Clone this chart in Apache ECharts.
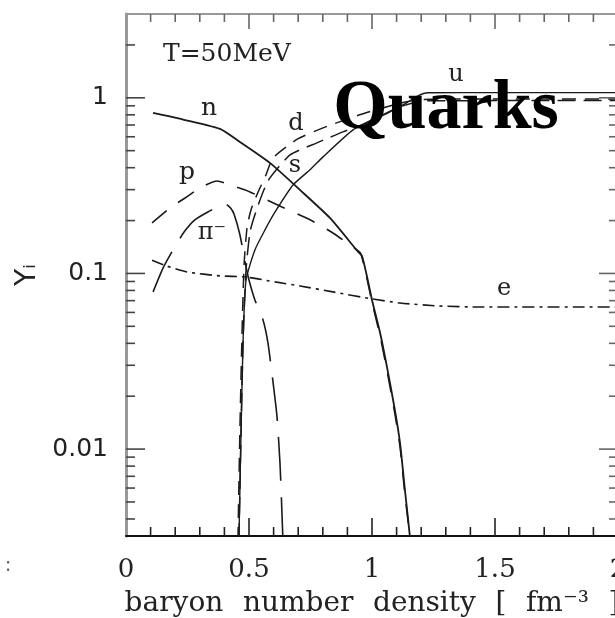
<!DOCTYPE html>
<html>
<head>
<meta charset="utf-8">
<script src="https://cdn.jsdelivr.net/npm/echarts@6/dist/echarts.min.js"></script>
<style>
html,body{margin:0;padding:0;background:#fff;}
#chart{width:615px;height:618px;}
</style>
</head>
<body>
<div id="chart"></div>
<script>
// ---- data (x: baryon number density [fm^-3], y: Y_i) ----
const nData = [[0.110,0.82],[0.199,0.77],[0.382,0.666],[0.463,0.561],[0.585,0.426],[0.707,0.299],[0.829,0.207],[0.943,0.133],[0.959,0.126],[0.980,0.0955],[1.0,0.0706],[1.033,0.0458],[1.061,0.0293],[1.093,0.0167],[1.114,0.0108],[1.134,0.00583],[1.156,0.0030]];
const pData = [[0.106,0.194],[0.179,0.236],[0.240,0.269],[0.301,0.307],[0.370,0.336],[0.423,0.319],[0.504,0.291],[0.634,0.239],[0.748,0.202],[0.841,0.170],[0.939,0.136],[0.955,0.129],[0.980,0.093],[1.0,0.0687],[1.033,0.044],[1.061,0.028],[1.093,0.0159],[1.114,0.0103],[1.134,0.0055],[1.156,0.0030]];
const piData = [[0.110,0.0785],[0.150,0.107],[0.191,0.136],[0.236,0.172],[0.280,0.202],[0.341,0.227],[0.385,0.244],[0.407,0.247],[0.425,0.236],[0.439,0.218],[0.463,0.166],[0.484,0.116],[0.500,0.0918],[0.524,0.0706],[0.557,0.0543],[0.577,0.0402],[0.598,0.0238],[0.614,0.0152],[0.626,0.0083],[0.634,0.00432],[0.638,0.0030]];
const eData = [[0.106,0.119],[0.167,0.110],[0.248,0.102],[0.382,0.0968],[0.484,0.0955],[0.606,0.0895],[0.707,0.0849],[0.841,0.0785],[1.0,0.0716],[1.114,0.0679],[1.268,0.0653],[1.439,0.0644],[2.0,0.0644]];
const uData = [[0.459,0.0030],[0.467,0.0113],[0.476,0.0418],[0.488,0.0918],[0.524,0.136],[0.565,0.177],[0.606,0.224],[0.679,0.319],[0.748,0.389],[0.801,0.461],[0.923,0.657],[1.033,0.789],[1.134,0.924],[1.187,1.027],[1.228,1.068],[1.5,1.07],[2.0,1.07]];
const dData = [[0.455,0.0030],[0.463,0.0128],[0.472,0.0477],[0.480,0.112],[0.492,0.182],[0.508,0.230],[0.537,0.291],[0.569,0.364],[0.598,0.455],[0.700,0.585],[0.820,0.690],[0.950,0.800],[1.061,0.890],[1.167,0.965],[1.28,0.985],[2.0,0.985]];
const sData = [[0.459,0.0030],[0.467,0.0113],[0.476,0.0418],[0.488,0.105],[0.504,0.172],[0.524,0.216],[0.557,0.291],[0.585,0.350],[0.667,0.473],[0.776,0.554],[0.882,0.640],[0.992,0.730],[1.114,0.888],[1.215,0.961],[2.0,0.965]];

// ---- ticks / labels ----
const xMajorTicks = [0.5, 1.0, 1.5];
const xMinorTicks = [0.1,0.2,0.3,0.4,0.6,0.7,0.8,0.9,1.1,1.2,1.3,1.4,1.6,1.7,1.8,1.9];
const yMajorTicks = [0.01, 0.1, 1];
const yMinorTicks = [0.004,0.005,0.006,0.007,0.008,0.009,0.02,0.03,0.04,0.05,0.06,0.07,0.08,0.09,0.2,0.3,0.4,0.5,0.6,0.7,0.8,0.9,2];
const yTickLabels = ['0.01','0.1','1'];

const chart = echarts.init(document.getElementById('chart'), null, {renderer:'canvas'});
const LC = '#1a1a1a';
const serif = '"DejaVu Serif", serif';
const sans = '"DejaVu Sans", sans-serif';

const xTickData = xMajorTicks.map(v=>[v,1,1]).concat(xMinorTicks.map(v=>[v,1,0]));
const yTickData = yMajorTicks.map(v=>[1,v,1]).concat(yMinorTicks.map(v=>[1,v,0]));

function lineSeries(name, data, type, width){
  return {name, type:'line', data, showSymbol:false, symbol:'none', smooth:0.2, clip:true,
    lineStyle:{color:LC, width:width||1.6, type:type||'solid'}, z:3, silent:true};
}
const SP = '\u2002\u2009';
function txt(x, y, text, size, align){
  return {type:'text', x, y, style:{text, font:size+'px "DejaVu Serif"', fill:'#222',
    align:align||'center', verticalAlign:'middle', textAlign:align||'center', textVerticalAlign:'middle'}};
}

const option = {
  animation:false,
  backgroundColor:'#fff',
  grid:{left:126, top:14, width:492, height:522, outerBoundsMode:'none', containLabel:false,
    show:true, borderColor:'#999', borderWidth:2, backgroundColor:'transparent'},
  xAxis:{type:'value', min:0, max:2, interval:0.5,
    axisLine:{show:true, lineStyle:{color:'#111', width:2}},
    axisTick:{show:false}, splitLine:{show:false},
    axisLabel:{fontFamily:serif, fontSize:26, color:'#222', margin:21},
    name:'baryon'+SP+'number'+SP+'density'+SP+'['+SP+'fm\u207B\u00B3'+SP+']', nameLocation:'middle', nameGap:54,
    nameTextStyle:{fontFamily:serif, fontSize:28, color:'#222'}
  },
  yAxis:{type:'log', logBase:10, min:0.0032, max:3,
    axisLine:{show:true, lineStyle:{color:'#999', width:3}},
    axisTick:{show:false}, splitLine:{show:false}, minorTick:{show:false},
    axisLabel:{fontFamily:sans, fontSize:25, color:'#222', margin:18,
      formatter:function(v){const l=Math.log10(v), r=Math.round(l); if(Math.abs(l-r)<1e-6 && r>=-2 && r<=0) return yTickLabels[r+2]; return '';}},
    name:'Y\u1D62', nameLocation:'middle', nameRotate:90, nameGap:82,
    nameTextStyle:{fontFamily:sans, fontSize:28, color:'#222'}
  },
  series:[
    lineSeries('n', nData, 'solid', 1.8),
    lineSeries('p', pData, [19,14], 1.6),
    lineSeries('pi', piData, [44,16], 1.6),
    lineSeries('e', eData, [12,5,3,5], 1.6),
    lineSeries('u', uData, 'solid', 1.4),
    lineSeries('d', dData, [14,9], 1.5),
    lineSeries('s', sData, [18,8], 1.5),
    {type:'custom', name:'xticks', data:xTickData, encode:{x:0,y:1}, silent:true, z:4,
      renderItem:function(params, api){
        const cs = params.coordSys; const major = api.value(2);
        const px = api.coord([api.value(0), 1])[0];
        const lb = major?18:9, lt = major?15:8, yb = cs.y+cs.height, yt = cs.y;
        return {type:'group', children:[
          {type:'line', shape:{x1:px,y1:yb,x2:px,y2:yb-lb}, style:{stroke:'#222', lineWidth:1.6}},
          {type:'line', shape:{x1:px,y1:yt,x2:px,y2:yt+lt}, style:{stroke:'#666', lineWidth:1.6}}
        ]};
      }},
    {type:'custom', name:'yticks', data:yTickData, encode:{x:0,y:1}, silent:true, z:4,
      renderItem:function(params, api){
        const cs = params.coordSys; const major = api.value(2);
        const py = api.coord([1, api.value(1)])[1];
        const len = major?19:9, xl = cs.x, xr = cs.x+cs.width;
        return {type:'group', children:[
          {type:'line', shape:{x1:xl,y1:py,x2:xl+len,y2:py}, style:{stroke:'#444', lineWidth:1.6}},
          {type:'line', shape:{x1:xr,y1:py,x2:xr-len,y2:py}, style:{stroke:'#666', lineWidth:1.6}}
        ]};
      }}
  ],
  graphic:[
    txt(163, 54, 'T=50MeV', 25, 'left'),
    txt(209, 108, 'n', 25),
    txt(187, 172, 'p', 25),
    txt(212, 233, '\u03C0\u207B', 24),
    txt(296, 124, 'd', 24),
    txt(295, 166, 's', 24),
    txt(456, 75, 'u', 24),
    txt(504, 289, 'e', 24),
    {type:'text', x:446, y:110, z:10, style:{text:'Quarks', font:'bold 70px "Liberation Serif"', fill:'#000', align:'center', verticalAlign:'middle', textAlign:'center', textVerticalAlign:'middle'}},
    {type:'text', x:8, y:566, style:{text:':', font:'20px "DejaVu Sans"', fill:'#666', align:'center', verticalAlign:'middle', textAlign:'center', textVerticalAlign:'middle'}}
  ]
};
chart.setOption(option);
</script>
</body>
</html>
